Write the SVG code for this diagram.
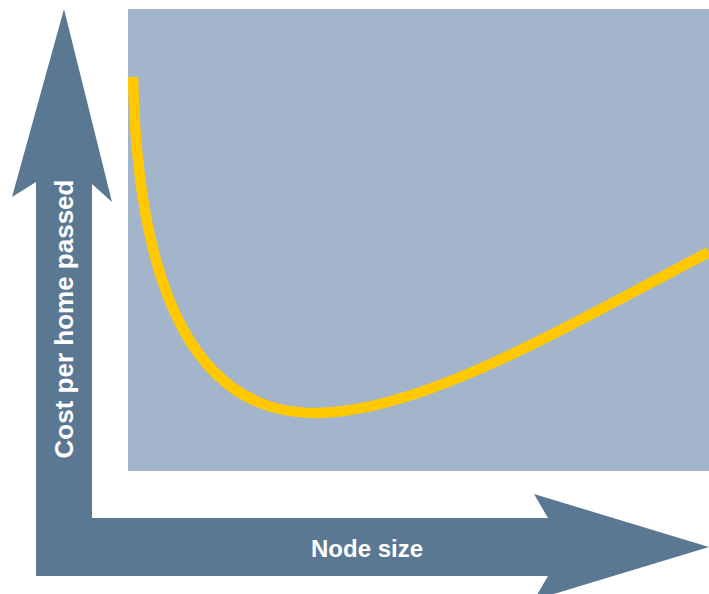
<svg xmlns="http://www.w3.org/2000/svg" width="709" height="594" viewBox="0 0 709 594">
<style>
.lbl{font-family:"Liberation Sans",Arial,sans-serif;font-weight:bold;fill:#FFFFFF;text-anchor:middle}
</style>
<rect width="709" height="594" fill="#FFFFFF"/>
<g id="plot-area">
<rect x="128" y="9" width="581" height="462" fill="#A3B5CB"/>
</g>
<g id="axes">
<polygon points="64,9 112,202 92,184 92,518 548,518 534,494 709,547 534,600 548,576 36,576 36,182 12,197" fill="#5B7893"/>
<text class="lbl" x="367" y="557" font-size="24">Node size</text>
<text class="lbl" font-size="26" transform="translate(73,319) rotate(-90)">Cost per home passed</text>
</g>
<g id="curve">
<path d="M133,77 C138,300 200,413 315,413 C420,413 560,330 709,252" fill="none" stroke="#FFC800" stroke-width="10.5"/>
</g>
</svg>
